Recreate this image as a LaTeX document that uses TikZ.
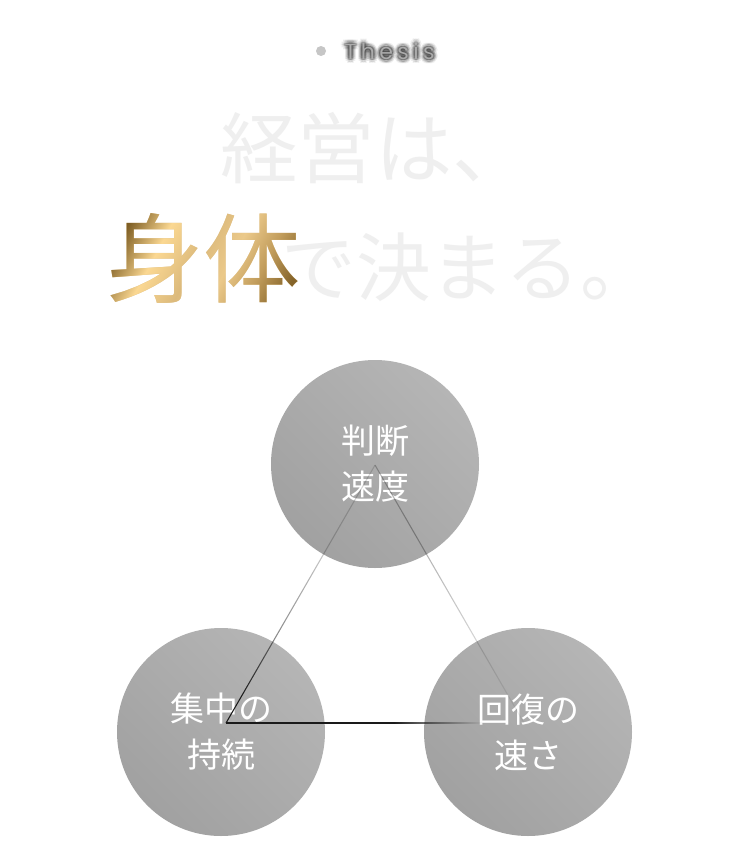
\documentclass[tikz,border=0pt]{standalone}
\usepackage{fontspec}
\setmainfont{Liberation Serif}
\newfontfamily\cjk{Noto Sans CJK JP}
\newfontfamily\thesisfont[LetterSpace=20]{Poppins}
\usetikzlibrary{fadings,calc}
\pgfdeclarelayer{background}
\pgfsetlayers{background,main}

\definecolor{titlegray}{HTML}{EFEFEF}
\definecolor{goldbase}{HTML}{DDBB7C}
\definecolor{gA}{HTML}{7E5E24}
\definecolor{gB}{HTML}{FBD892}
\definecolor{gC}{HTML}{DCBA7C}
\definecolor{gD}{HTML}{EBC98A}
\definecolor{gE}{HTML}{C29D5C}
\definecolor{gF}{HTML}{85642A}
\definecolor{ballA}{HTML}{B5B5B5}
\definecolor{ballB}{HTML}{A1A1A1}
\definecolor{dotgray}{HTML}{C6C6C6}
\definecolor{thesisgray}{HTML}{ABABAB}
\definecolor{shadowcol}{HTML}{3A3A3A}
\definecolor{edgecol}{HTML}{1A1A1A}

% gold gradient for the two highlighted characters
\pgfdeclarehorizontalshading{goldsh}{100bp}{color(0bp)=(gA); color(24bp)=(gA); color(36bp)=(gB); color(48bp)=(gC); color(58bp)=(gD); color(68bp)=(gE); color(78bp)=(gF); color(100bp)=(gF)}

% fadings of the two slanted triangle edges (white = opaque, black = transparent)
\pgfdeclareverticalshading{shL}{100bp}{color(0bp)=(white); color(30bp)=(white); color(42bp)=(white!50!black); color(58bp)=(white!24!black); color(85bp)=(white!12!black); color(97bp)=(white!10!black); color(97.6bp)=(white); color(100bp)=(white)}
\pgfdeclarefading{fadeL}{\pgfuseshading{shL}}
\pgfdeclareverticalshading{shR}{100bp}{color(0bp)=(black); color(22bp)=(white!2!black); color(34bp)=(white!12!black); color(48bp)=(white!24!black); color(62bp)=(white!36!black); color(80bp)=(white!26!black); color(97bp)=(white!20!black); color(97.6bp)=(white); color(100bp)=(white)}
\pgfdeclarefading{fadeR}{\pgfuseshading{shR}}

% fading of the base edge, drawn to the length of the edge (298 px)
\begin{tikzfadingfrompicture}[name=fadeB, x=0.75pt, y=0.75pt]
  \path (-149,-4) rectangle (149,4);
  \fill[transparent!0] (-150,-4) rectangle (18,4);
  \shade[left color=transparent!0, right color=transparent!100] (18,-4) rectangle (108,4);
\end{tikzfadingfrompicture}

\begin{tikzfadingfrompicture}[name=goldfade]
  \node[inner sep=0pt, text=transparent!0, font=\cjk\fontsize{73}{73}\selectfont] {身体};
\end{tikzfadingfrompicture}

\begin{tikzfadingfrompicture}[name=thesisshadow]
  \foreach \r/\o in {1.1/0.16, 2.2/0.12, 3.3/0.08} {
    \foreach \a in {0,30,...,330} {
      \node[inner sep=4pt, opacity=\o, text=transparent!0, font=\thesisfont\fontsize{16.5}{16.5}\selectfont] at (\a:\r pt) {Thesis};
    }
  }
\end{tikzfadingfrompicture}

\tikzset{
  titletext/.style={inner sep=0pt, text=titlegray, font=\cjk\fontsize{58}{58}\selectfont},
  goldtext/.style={inner sep=0pt, text=goldbase, font=\cjk\fontsize{73}{73}\selectfont},
  thesistext/.style={inner sep=4pt, font=\thesisfont\fontsize{16.5}{16.5}\selectfont},
  ball/.style={circle, minimum size=156pt, inner sep=0pt, left color=ballA, right color=ballB,
    shading angle=-45, text=white, align=center, font=\cjk\fontsize{25.5}{34.5}\selectfont},
  edge/.style={draw=edgecol, line width=0.8pt},
}

\begin{document}
\begin{tikzpicture}[x=0.75pt, y=0.75pt]
  \useasboundingbox (0,0) rectangle (750,-860);
  \begin{pgfonlayer}{background}
    \fill[white] (0,0) rectangle (750,-860);
  \end{pgfonlayer}

  % heading "Thesis" with its blurred shadow
  \fill[dotgray] (321,-51) circle (5);
  \node[thesistext, text=thesisgray, anchor=base west] (thesis) at (339,-59.5) {Thesis};
  \begin{pgfonlayer}{background}
    \fill[shadowcol, path fading=thesisshadow, fit fading=false,
          fading transform={shift={(thesis.center)}}]
          ($(thesis.south west)+(-4pt,-4pt)$) rectangle ($(thesis.north east)+(4pt,4pt)$);
  \end{pgfonlayer}

  % title
  \node[titletext, anchor=base] (line1) at (375,-177) {経営は、};
  \node[goldtext, anchor=base west] (body) at (106,-295) {身体};
  \shade[path fading=goldfade, fit fading=false, fading transform={shift={(body.center)}},
         shading=goldsh, shading angle=-28] (body.south west) rectangle (body.north east);
  \node[titletext, font=\cjk\fontsize{56}{56}\selectfont, anchor=base west] (line2) at ($(body.base east)+(-20,0)$) {で決まる。};

  % circles
  \node[ball] (speed) at (375,-464) {判断\\速度};
  \node[ball] (focus) at (221,-732) {集中の\\持続};
  \node[ball] (recover) at (528,-732) {回復の\\速さ};

  % triangle
  \coordinate (T) at (375,-465);
  \coordinate (L) at (226,-723);
  \coordinate (R) at (524,-723);
  \draw[edge, path fading=fadeL] (L) -- (T);
  \draw[edge, path fading=fadeR] (T) -- (R);
  \draw[edge, path fading=fadeB, fit fading=false,
        fading transform={shift={($(L)!0.5!(R)$)}}] (L) -- (R);
\end{tikzpicture}
\end{document}
